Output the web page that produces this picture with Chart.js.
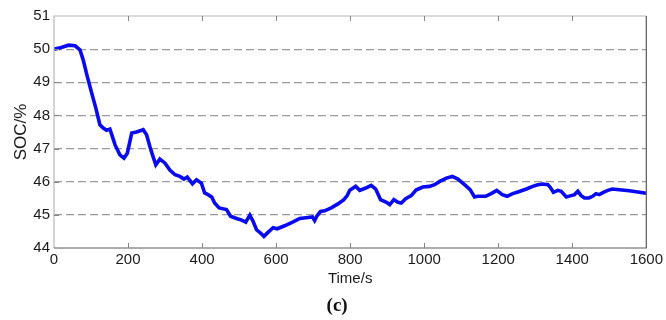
<!DOCTYPE html>
<html>
<head>
<meta charset="utf-8">
<script src="https://cdn.jsdelivr.net/npm/chart.js@4"></script>
<style>
  html, body { margin: 0; padding: 0; background: #fff; }
  #wrap { width: 666px; height: 320px; }
</style>
</head>
<body>
<div id="wrap"><canvas id="socChart"></canvas></div>
<script>
// SOC trace over the drive cycle
const timeS = [0, 20, 39, 57, 70, 79, 90, 102, 113, 124, 133, 142, 151, 156, 165, 178, 189, 198, 210, 223,
  241, 250, 259, 266, 275, 286, 300, 313, 327, 340, 351, 360, 374, 385, 398, 407, 416, 426, 434, 446,
  466, 477, 493, 507, 518, 529, 538, 547, 558, 567, 578, 592, 603, 623, 646, 664, 686, 698, 704, 711,
  720, 731, 749, 767, 783, 792, 799, 815, 826, 842, 857, 869, 882, 898, 907, 918, 929, 938, 950, 965,
  978, 996, 1014, 1028, 1042, 1060, 1076, 1091, 1109, 1124, 1136, 1145, 1166, 1181, 1196, 1211, 1224, 1239, 1253, 1276,
  1293, 1307, 1320, 1334, 1340, 1349, 1361, 1370, 1384, 1397, 1406, 1415, 1424, 1433, 1445, 1455, 1464, 1473, 1484, 1496,
  1508, 1527, 1554, 1577, 1600];
const socPct = [50.00, 50.05, 50.12, 50.10, 49.98, 49.67, 49.17, 48.67, 48.22, 47.72, 47.62, 47.55, 47.59, 47.42, 47.11, 46.81, 46.71, 46.86, 47.47, 47.50,
  47.57, 47.42, 47.06, 46.81, 46.51, 46.68, 46.56, 46.35, 46.21, 46.16, 46.08, 46.14, 45.94, 46.06, 45.96, 45.66, 45.61, 45.54, 45.36, 45.21,
  45.16, 44.96, 44.89, 44.84, 44.78, 44.99, 44.80, 44.55, 44.45, 44.35, 44.47, 44.61, 44.58, 44.67, 44.79, 44.89, 44.92, 44.94, 44.83, 44.98,
  45.10, 45.12, 45.21, 45.33, 45.46, 45.58, 45.74, 45.86, 45.74, 45.81, 45.89, 45.78, 45.46, 45.38, 45.31, 45.46, 45.38, 45.36, 45.49, 45.58,
  45.75, 45.84, 45.86, 45.91, 46.01, 46.11, 46.16, 46.08, 45.91, 45.76, 45.54, 45.56, 45.56, 45.64, 45.74, 45.61, 45.56, 45.64, 45.69, 45.78,
  45.86, 45.91, 45.93, 45.91, 45.84, 45.68, 45.74, 45.71, 45.54, 45.58, 45.61, 45.71, 45.58, 45.51, 45.51, 45.56, 45.64, 45.61, 45.68, 45.74,
  45.78, 45.76, 45.73, 45.69, 45.65];

const xTicks = [0, 200, 400, 600, 800, 1000, 1200, 1400, 1600];
const yTicks = [44, 45, 46, 47, 48, 49, 50, 51];
const panelLabel = '(c)';

const points = timeS.map((t, i) => ({ x: t, y: socPct[i] }));

// matlab-style box: light left/top edges, darker right/bottom, inward ticks,
// plus the panel letter under the axis title
const boxFrame = {
  id: 'boxFrame',
  afterDatasetsDraw(chart) {
    const { ctx, chartArea: a, scales } = chart;
    ctx.save();
    ctx.lineWidth = 1.2;
    ctx.strokeStyle = '#b8b8b8';
    ctx.beginPath();
    ctx.moveTo(a.left, a.bottom); ctx.lineTo(a.left, a.top); ctx.lineTo(a.right, a.top);
    ctx.stroke();
    ctx.strokeStyle = '#5a5a5a';
    ctx.beginPath();
    ctx.moveTo(a.left, a.bottom); ctx.lineTo(a.right, a.bottom); ctx.lineTo(a.right, a.top);
    ctx.stroke();
    ctx.strokeStyle = '#888';
    ctx.lineWidth = 1;
    xTicks.slice(1, -1).forEach(v => {
      const px = Math.round(scales.x.getPixelForValue(v)) + 0.5;
      ctx.beginPath();
      ctx.moveTo(px, a.bottom); ctx.lineTo(px, a.bottom - 5);
      ctx.moveTo(px, a.top); ctx.lineTo(px, a.top + 5);
      ctx.stroke();
    });
    yTicks.slice(1, -1).forEach(v => {
      const py = Math.round(scales.y.getPixelForValue(v)) + 0.5;
      ctx.beginPath();
      ctx.moveTo(a.left, py); ctx.lineTo(a.left + 5, py);
      ctx.stroke();
    });
    ctx.restore();
  },
  afterDraw(chart) {
    const { ctx, chartArea: a } = chart;
    ctx.save();
    ctx.fillStyle = '#111';
    ctx.font = 'bold 19px "Liberation Serif"';
    ctx.textAlign = 'center';
    ctx.textBaseline = 'middle';
    ctx.fillText(panelLabel, (a.left + a.right) / 2 - 13, 306);
    ctx.restore();
  }
};

new Chart(document.getElementById('socChart'), {
  type: 'line',
  data: {
    datasets: [{
      data: points,
      borderColor: '#0a0af0',
      borderWidth: 3.6,
      pointRadius: 0,
      tension: 0,
      fill: false
    }]
  },
  options: {
    responsive: true,
    maintainAspectRatio: false,
    animation: false,
    layout: { padding: { top: 16, right: 19, left: 0, bottom: 32 } },
    plugins: {
      legend: { display: false },
      tooltip: { enabled: false }
    },
    scales: {
      x: {
        type: 'linear',
        min: 0,
        max: 1600,
        afterBuildTicks: s => { s.ticks = xTicks.map(v => ({ value: v })); },
        afterFit: s => { s.height = 40; },
        grid: { display: false, drawTicks: false },
        border: { display: false },
        ticks: {
          color: '#1a1a1a',
          padding: 3,
          maxRotation: 0,
          callback: v => String(v),
          font: { family: 'Liberation Sans', size: 15 }
        },
        title: {
          display: true,
          text: 'Time/s',
          color: '#1a1a1a',
          font: { family: 'Liberation Sans', size: 15 },
          padding: { top: 3, bottom: 0 }
        }
      },
      y: {
        min: 44,
        max: 51,
        afterBuildTicks: s => { s.ticks = yTicks.map(v => ({ value: v })); },
        afterFit: s => { s.width = 54; },
        grid: {
          drawTicks: false,
          color: c => (c.tick && (c.tick.value === 44 || c.tick.value === 51)) ? 'rgba(0,0,0,0)' : '#9a9a9a',
          lineWidth: 1.2
        },
        border: { display: false, dash: [8, 4] },
        ticks: {
          color: '#1a1a1a',
          padding: 4,
          callback: v => String(v),
          font: { family: 'Liberation Sans', size: 15 }
        },
        title: {
          display: true,
          text: 'SOC/%',
          color: '#1a1a1a',
          font: { family: 'Liberation Sans', size: 17 },
          padding: { top: 11, bottom: 0 }
        }
      }
    }
  },
  plugins: [boxFrame]
});
</script>
</body>
</html>
